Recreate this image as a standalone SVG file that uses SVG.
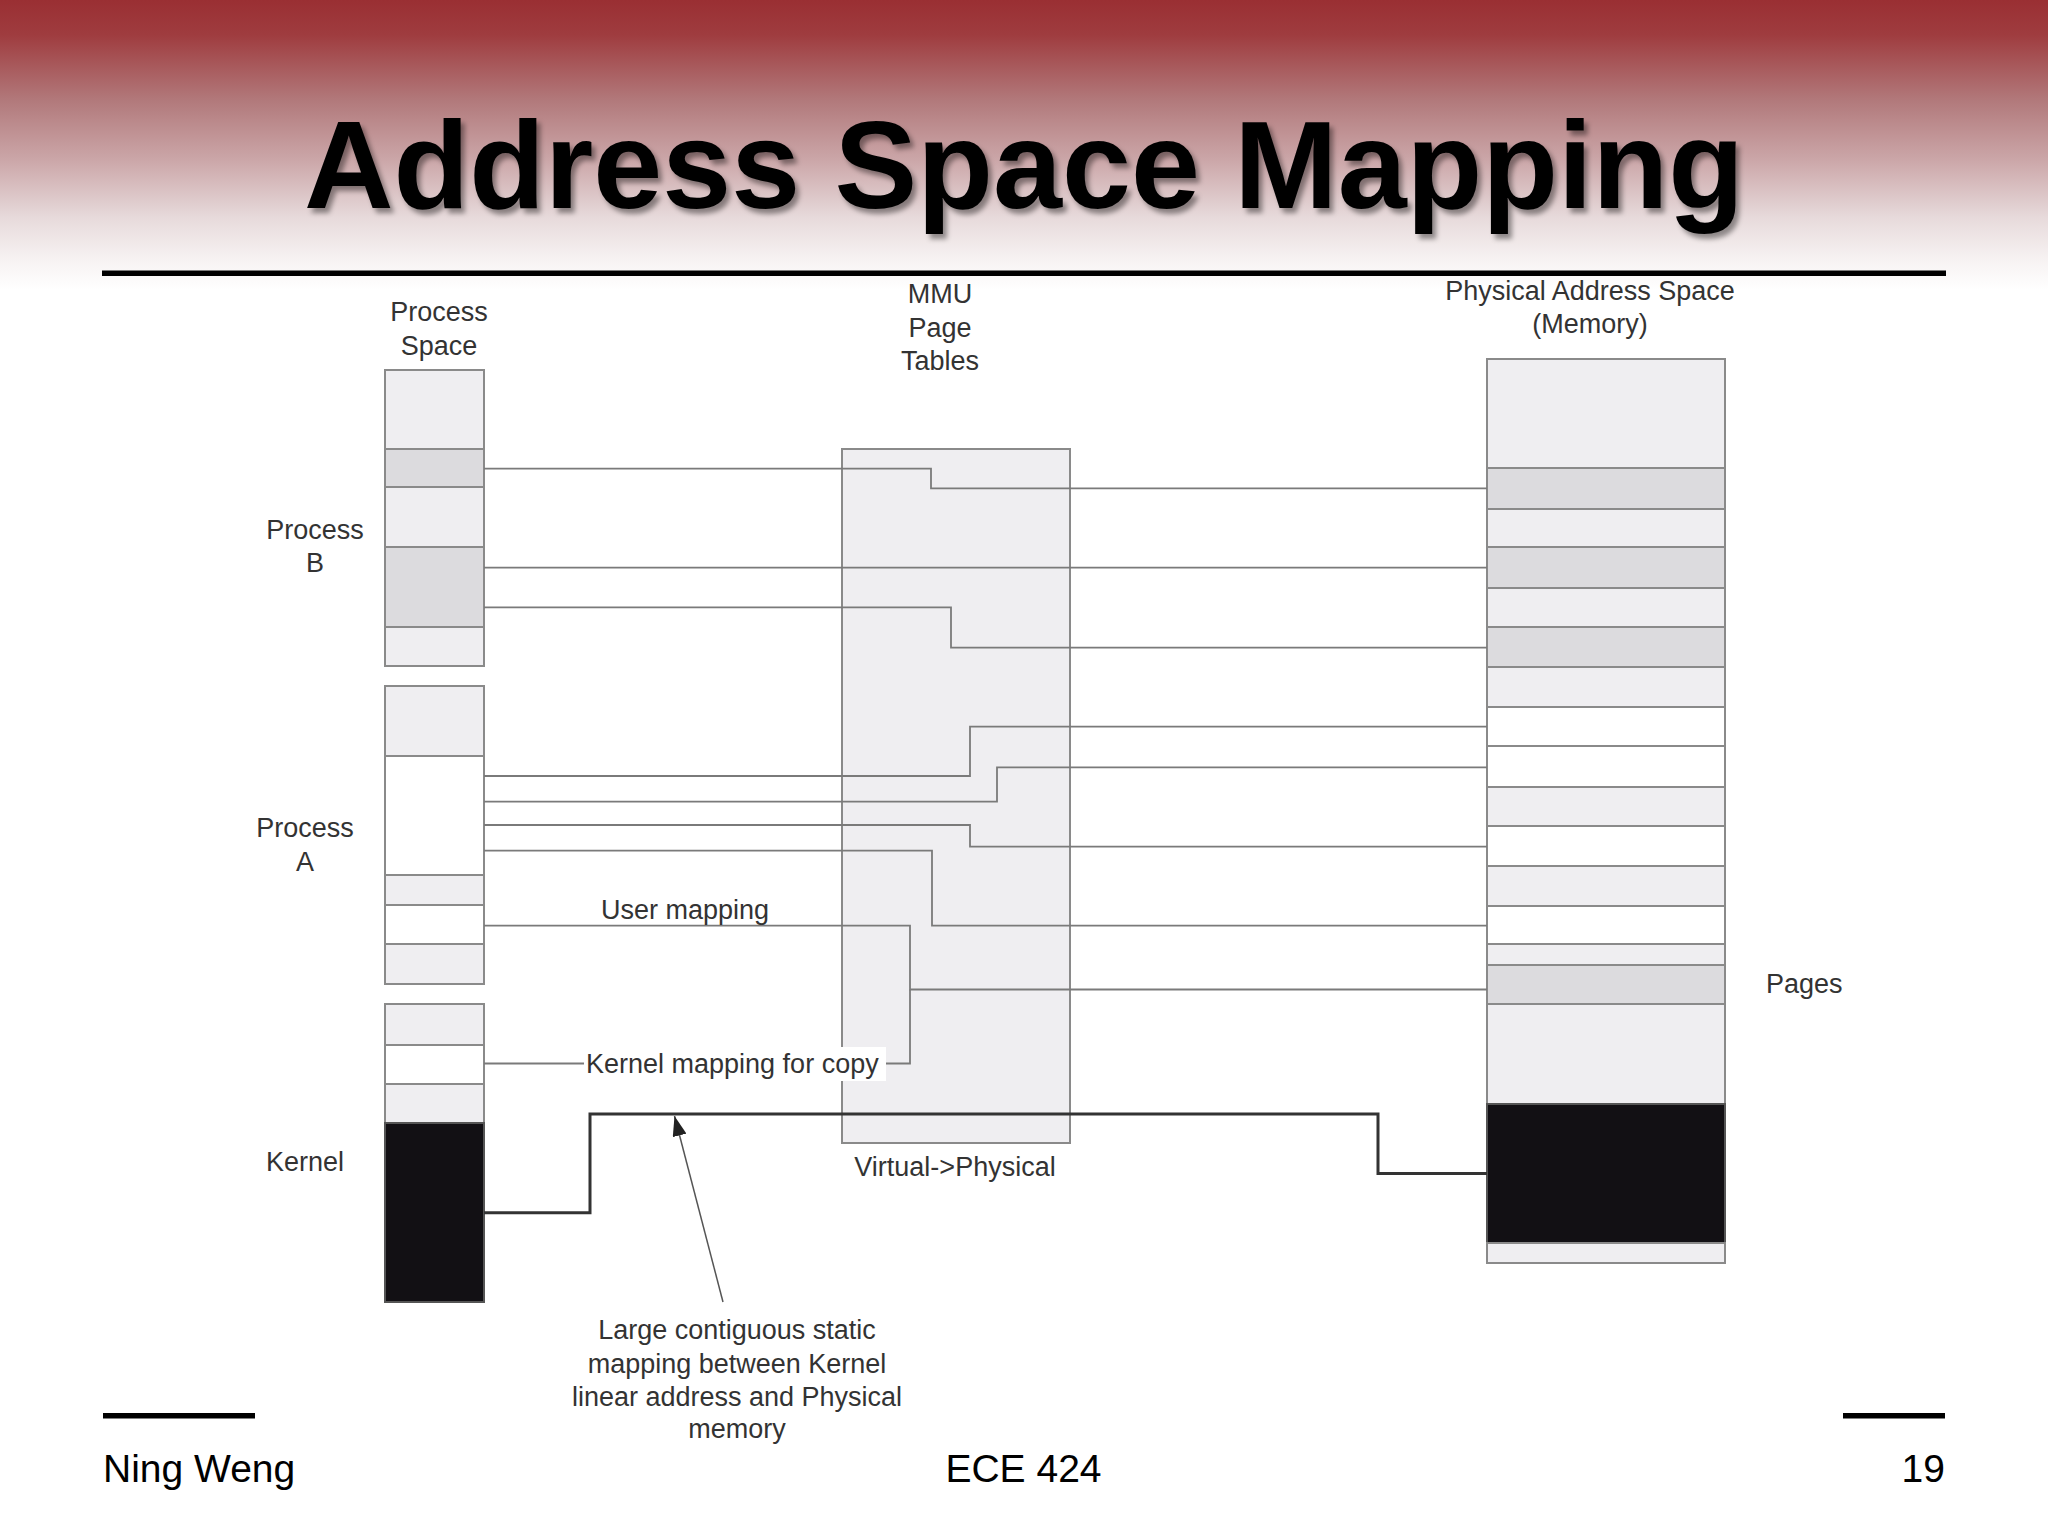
<svg xmlns="http://www.w3.org/2000/svg" width="2048" height="1536" viewBox="0 0 2048 1536">
<defs>
  <linearGradient id="bg" x1="0" y1="0" x2="0" y2="1">
    <stop offset="0" stop-color="#9a2f33"/>
    <stop offset="0.12" stop-color="#9f3c3f"/>
    <stop offset="0.35" stop-color="#b27a7c"/>
    <stop offset="0.55" stop-color="#cba6a8"/>
    <stop offset="0.75" stop-color="#e7dadb"/>
    <stop offset="0.9" stop-color="#f7f3f3"/>
    <stop offset="1" stop-color="#ffffff"/>
  </linearGradient>
  <filter id="shadow" x="-5%" y="-20%" width="110%" height="150%">
    <feDropShadow dx="4" dy="5" stdDeviation="2.5" flood-color="#000" flood-opacity="0.4"/>
  </filter>
  <marker id="arrow" viewBox="0 0 20 14" refX="20" refY="7" markerWidth="20" markerHeight="14" orient="auto" markerUnits="userSpaceOnUse">
    <path d="M0,0 L20,7 L0,14 z" fill="#222"/>
  </marker>
</defs>
<style>
  .lbl{font-family:"Liberation Sans",Arial,sans-serif;font-size:27px;fill:#333;}
  .c{text-anchor:middle;}
  .lt{fill:#efeef1;stroke:#8a8a8a;stroke-width:2;}
  .md{fill:#dcdbde;stroke:#8a8a8a;stroke-width:2;}
  .wh{fill:#ffffff;stroke:#8a8a8a;stroke-width:2;}
  .bk{fill:#121014;stroke:#555;stroke-width:2;}
  .conn{fill:none;stroke:#7a7a7a;stroke-width:1.8;}
  .kconn{fill:none;stroke:#333;stroke-width:3;}
  .foot{font-family:"Liberation Sans",Arial,sans-serif;font-size:39px;fill:#000;}
</style>

<rect width="2048" height="1536" fill="#ffffff"/>
<rect width="2048" height="290" fill="url(#bg)"/>

<g id="title">
  <text x="1024" y="208" text-anchor="middle" font-family="'Liberation Sans',Arial,sans-serif" font-weight="bold" font-size="124" fill="#000" filter="url(#shadow)">Address Space Mapping</text>
  <rect x="102" y="270.5" width="1844" height="5.5" fill="#000"/>
</g>

<g id="column-labels">
  <text class="lbl c" x="439" y="321">Process</text>
  <text class="lbl c" x="439" y="355">Space</text>
  <text class="lbl c" x="940" y="303">MMU</text>
  <text class="lbl c" x="940" y="337">Page</text>
  <text class="lbl c" x="940" y="370">Tables</text>
  <text class="lbl c" x="1590" y="300">Physical Address Space</text>
  <text class="lbl c" x="1590" y="333">(Memory)</text>
</g>

<g id="process-b">
  <rect class="lt" x="385" y="370" width="99" height="79"/>
  <rect class="md" x="385" y="449" width="99" height="38"/>
  <rect class="lt" x="385" y="487" width="99" height="60"/>
  <rect class="md" x="385" y="547" width="99" height="80"/>
  <rect class="lt" x="385" y="627" width="99" height="39"/>
  <text class="lbl c" x="315" y="539">Process</text>
  <text class="lbl c" x="315" y="572">B</text>
</g>

<g id="process-a">
  <rect class="lt" x="385" y="686" width="99" height="70"/>
  <rect class="wh" x="385" y="756" width="99" height="119"/>
  <rect class="lt" x="385" y="875" width="99" height="30"/>
  <rect class="wh" x="385" y="905" width="99" height="39"/>
  <rect class="lt" x="385" y="944" width="99" height="40"/>
  <text class="lbl c" x="305" y="837">Process</text>
  <text class="lbl c" x="305" y="871">A</text>
</g>

<g id="kernel">
  <rect class="lt" x="385" y="1004" width="99" height="41"/>
  <rect class="wh" x="385" y="1045" width="99" height="39"/>
  <rect class="lt" x="385" y="1084" width="99" height="39"/>
  <rect class="bk" x="385" y="1123" width="99" height="179"/>
  <text class="lbl c" x="305" y="1171">Kernel</text>
</g>

<g id="mmu">
  <rect class="lt" x="842" y="449" width="228" height="694"/>
  <text class="lbl c" x="955" y="1176">Virtual-&gt;Physical</text>
</g>

<g id="memory">
  <rect class="lt" x="1487" y="359" width="238" height="109"/>
  <rect class="md" x="1487" y="468" width="238" height="41"/>
  <rect class="lt" x="1487" y="509" width="238" height="38"/>
  <rect class="md" x="1487" y="547" width="238" height="41"/>
  <rect class="lt" x="1487" y="588" width="238" height="39"/>
  <rect class="md" x="1487" y="627" width="238" height="40"/>
  <rect class="lt" x="1487" y="667" width="238" height="40"/>
  <rect class="wh" x="1487" y="707" width="238" height="39"/>
  <rect class="wh" x="1487" y="746" width="238" height="41"/>
  <rect class="lt" x="1487" y="787" width="238" height="39"/>
  <rect class="wh" x="1487" y="826" width="238" height="40"/>
  <rect class="lt" x="1487" y="866" width="238" height="40"/>
  <rect class="wh" x="1487" y="906" width="238" height="38"/>
  <rect class="lt" x="1487" y="944" width="238" height="21"/>
  <rect class="md" x="1487" y="965" width="238" height="39"/>
  <rect class="lt" x="1487" y="1004" width="238" height="100"/>
  <rect class="bk" x="1487" y="1104" width="238" height="139"/>
  <rect class="lt" x="1487" y="1243" width="238" height="20"/>
  <text class="lbl" x="1766" y="993">Pages</text>
</g>

<g id="connectors">
  <path class="conn" d="M484,468.7 H931 V488.3 H1487"/>
  <path class="conn" d="M484,567.7 H1487"/>
  <path class="conn" d="M484,607.3 H951 V647.7 H1487"/>
  <path class="conn" d="M484,776 H970 V726.7 H1487"/>
  <path class="conn" d="M484,801.7 H997 V767.3 H1487"/>
  <path class="conn" d="M484,825 H970 V846.7 H1487"/>
  <path class="conn" d="M484,850.7 H932 V925.7 H1487"/>
  <path class="conn" d="M484,925.7 H910 V989.5 H1487"/>
  <path class="conn" d="M910,989.5 V1063.5 H884"/>
  <path class="conn" d="M484,1063.5 H586"/>
  <path class="kconn" d="M484,1212.7 H590 V1114 H1378 V1173.4 H1487"/>
  <path fill="none" stroke="#555" stroke-width="1.5" d="M723,1302 L674.5,1116" marker-end="url(#arrow)"/>
</g>

<g id="annotations">
  <text class="lbl" x="601" y="919">User mapping</text>
  <rect x="584" y="1047" width="302" height="34" fill="#ffffff"/>
  <text class="lbl" x="586" y="1073">Kernel mapping for copy</text>
  <text class="lbl c" x="737" y="1339">Large contiguous static</text>
  <text class="lbl c" x="737" y="1373">mapping between Kernel</text>
  <text class="lbl c" x="737" y="1406">linear address and Physical</text>
  <text class="lbl c" x="737" y="1438">memory</text>
</g>

<g id="footer">
  <rect x="103" y="1413" width="152" height="5.5" fill="#000"/>
  <rect x="1843" y="1413" width="102" height="5.5" fill="#000"/>
  <text class="foot" x="103" y="1482">Ning Weng</text>
  <text class="foot" x="1023.5" y="1482" text-anchor="middle">ECE 424</text>
  <text class="foot" x="1945" y="1482" text-anchor="end">19</text>
</g>
</svg>
